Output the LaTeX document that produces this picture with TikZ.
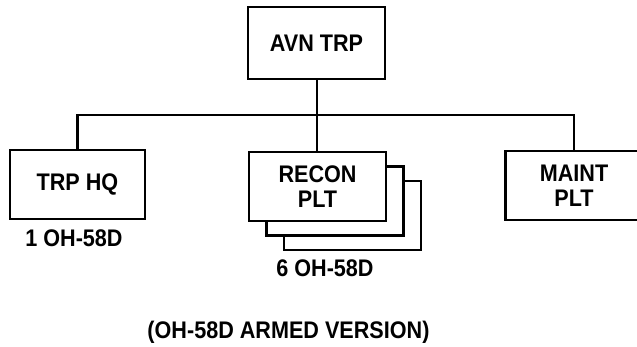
\documentclass[tikz,border=0pt]{standalone}
\usepackage{fontspec}
\setmainfont{Liberation Sans}[FakeStretch=0.9]
\usetikzlibrary{positioning,calc}

\tikzset{
  unitbox/.style={draw, line width=1.4pt, fill=white, minimum width=68.5pt,
    minimum height=34.5pt, align=center, inner sep=0pt},
  tag/.style={inner sep=0pt}
}

\begin{document}
\begin{tikzpicture}[x=0.5pt, y=-0.5pt, font=\fontsize{12}{12.5}\selectfont\bfseries]
    \useasboundingbox (0,0) rectangle (637,347);

    \node[unitbox, minimum height=36pt] (avn) at (316.5,43) {AVN TRP};

    \node[unitbox, minimum width=67.5pt] (hq) at (77.5,184.5) {TRP HQ};
    \node[tag] (hqlbl) at (74,238.5) {1 OH-58D};

    % stacked platoons
    \node[unitbox] (reconC) at (352.5,215.5) {};
    \node[unitbox] (reconB) at (335,201) {};
    \node[unitbox] (recon) at (317.5,186.5) {RECON\\PLT};
    \node[tag] (reconlbl) at (325,268.5) {6 OH-58D};

    \node[unitbox] (maint) at (574,185.5) {MAINT\\PLT};

    \coordinate (bus) at (317,115);
    \draw[line width=1.4pt] (avn.south -| bus) -- (recon.north -| bus);
    \draw[line width=1.4pt] (hq.north) |- (bus) -| (maint.north);

    \node[tag] (caption) at (288.5,332.5) {(OH-58D ARMED VERSION)};
\end{tikzpicture}
\end{document}
